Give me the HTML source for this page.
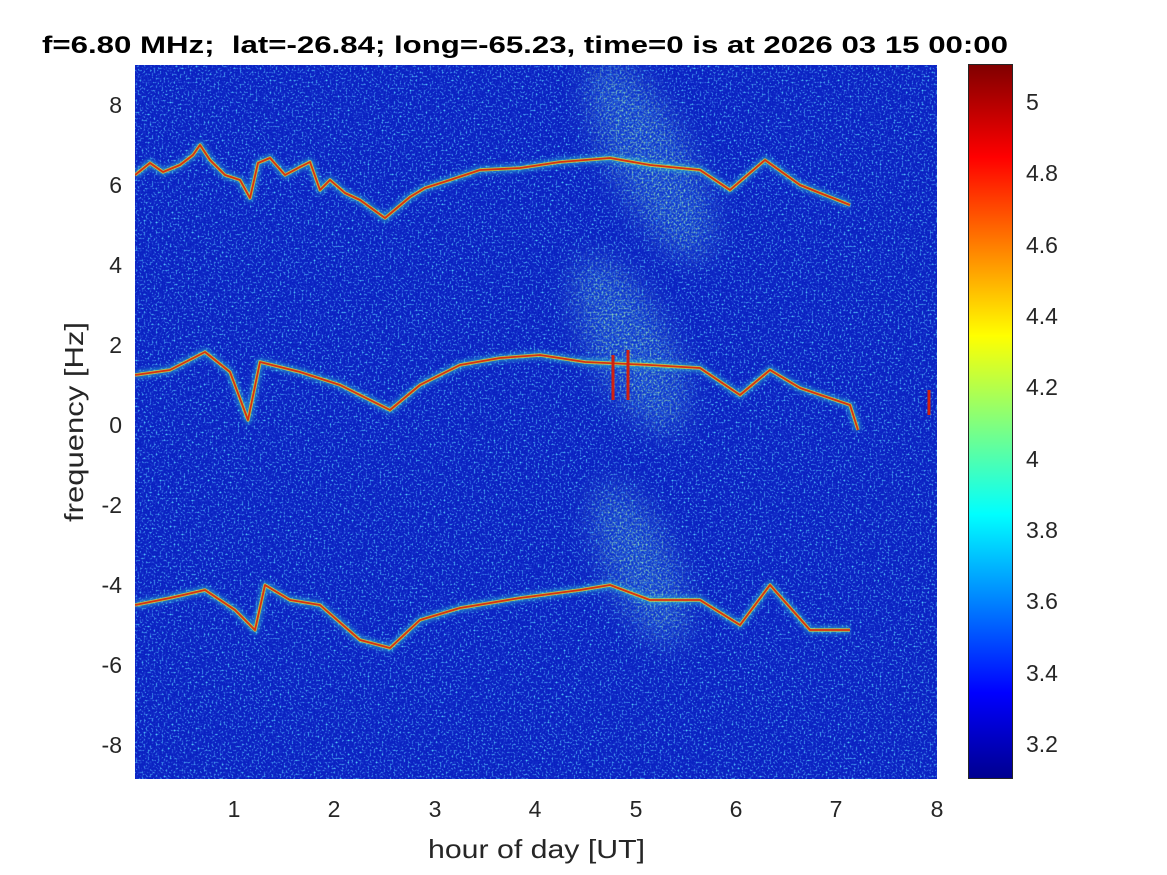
<!DOCTYPE html>
<html><head><meta charset="utf-8"><style>
body{margin:0;background:#fff;width:1167px;height:875px;overflow:hidden}
svg{display:block;font-family:"Liberation Sans",sans-serif}
</style></head><body>
<svg width="1167" height="875" viewBox="0 0 1167 875">
<defs>
<filter id="nz" x="0" y="0" width="100%" height="100%">
<feTurbulence type="fractalNoise" baseFrequency="0.5" numOctaves="1" seed="3" result="t"/>
<feColorMatrix in="t" type="matrix" values="0 0 0 0 0.1  2.2 0 0 0 -0.95  0 0 0 0 1  3 0 0 0 -1.45"/>
</filter>
<filter id="nz2" x="0" y="0" width="100%" height="100%">
<feTurbulence type="fractalNoise" baseFrequency="0.5" numOctaves="1" seed="9" result="t"/>
<feColorMatrix in="t" type="matrix" values="0 0 0 0 0.35  0 0 0 0 0.85  0 0 0 0 0.45  3 0 0 0 -1.35"/>
</filter>
<filter id="bl" x="-50%" y="-50%" width="200%" height="200%"><feGaussianBlur stdDeviation="14"/></filter>
<filter id="gl" x="-10%" y="-10%" width="120%" height="120%"><feGaussianBlur stdDeviation="2"/></filter>
<linearGradient id="jet" x1="0" y1="1" x2="0" y2="0">
<stop offset="0" stop-color="#00008f"/>
<stop offset="0.12" stop-color="#0000ff"/>
<stop offset="0.37" stop-color="#00ffff"/>
<stop offset="0.62" stop-color="#ffff00"/>
<stop offset="0.87" stop-color="#ff0000"/>
<stop offset="1" stop-color="#800000"/>
</linearGradient>
<mask id="streak"><g filter="url(#bl)" fill="#fff">
<ellipse cx="650" cy="160" rx="38" ry="110" transform="rotate(-28 650 160)"/>
<ellipse cx="630" cy="345" rx="38" ry="95" transform="rotate(-28 630 345)"/>
<ellipse cx="640" cy="565" rx="33" ry="85" transform="rotate(-25 640 565)"/>
</g></mask>
<clipPath id="cp"><rect x="135" y="65" width="802" height="714"/></clipPath>
</defs>
<g clip-path="url(#cp)">
<rect x="135" y="65" width="802" height="714" fill="#0a22c2"/>
<rect x="135" y="65" width="802" height="714" filter="url(#nz)" opacity="0.8"/>
<g mask="url(#streak)">
<rect x="135" y="65" width="802" height="714" fill="#1a5ae0" opacity="0.45"/>
<rect x="135" y="65" width="802" height="714" filter="url(#nz2)" opacity="0.75"/>
</g>
<g fill="none" stroke-linejoin="round">
<g stroke="#30c8d0" stroke-width="8" opacity="0.55" filter="url(#gl)">
<polyline points="135,175 150,163 163,172 180,165 193,155 200,145 210,160 225,175 240,180 250,198 258,163 270,158 285,175 300,167 310,162 320,190 330,180 345,193 360,200 385,218 410,197 425,188 450,180 480,170 520,168 560,162 610,158 650,165 700,170 730,190 765,160 800,185 850,205"/>
<polyline points="135,375 170,370 205,352 230,372 248,420 260,362 300,372 340,385 390,410 420,385 460,365 500,358 540,355 585,362 650,365 700,368 740,395 770,370 800,388 850,405 858,430"/>
<polyline points="135,605 170,598 205,590 235,610 255,630 265,585 290,600 320,605 360,640 390,648 420,620 460,608 520,598 580,590 610,585 650,600 700,600 740,625 770,585 810,630 850,630"/>
</g>
<g stroke="#f0e020" stroke-width="3.5" opacity="0.7">
<polyline points="135,175 150,163 163,172 180,165 193,155 200,145 210,160 225,175 240,180 250,198 258,163 270,158 285,175 300,167 310,162 320,190 330,180 345,193 360,200 385,218 410,197 425,188 450,180 480,170 520,168 560,162 610,158 650,165 700,170 730,190 765,160 800,185 850,205"/>
<polyline points="135,375 170,370 205,352 230,372 248,420 260,362 300,372 340,385 390,410 420,385 460,365 500,358 540,355 585,362 650,365 700,368 740,395 770,370 800,388 850,405 858,430"/>
<polyline points="135,605 170,598 205,590 235,610 255,630 265,585 290,600 320,605 360,640 390,648 420,620 460,608 520,598 580,590 610,585 650,600 700,600 740,625 770,585 810,630 850,630"/>
</g>
<g stroke="#d83010" stroke-width="1.8">
<polyline points="135,175 150,163 163,172 180,165 193,155 200,145 210,160 225,175 240,180 250,198 258,163 270,158 285,175 300,167 310,162 320,190 330,180 345,193 360,200 385,218 410,197 425,188 450,180 480,170 520,168 560,162 610,158 650,165 700,170 730,190 765,160 800,185 850,205"/>
<polyline points="135,375 170,370 205,352 230,372 248,420 260,362 300,372 340,385 390,410 420,385 460,365 500,358 540,355 585,362 650,365 700,368 740,395 770,370 800,388 850,405 858,430"/>
<polyline points="135,605 170,598 205,590 235,610 255,630 265,585 290,600 320,605 360,640 390,648 420,620 460,608 520,598 580,590 610,585 650,600 700,600 740,625 770,585 810,630 850,630"/>
</g>
<g stroke="#d02010" stroke-width="3">
<line x1="613" y1="355" x2="613" y2="400"/><line x1="628" y1="350" x2="628" y2="400"/>
<line x1="929" y1="390" x2="929" y2="415"/>
</g>
</g>
</g>
<g font-size="23" fill="#262626">
<g text-anchor="middle">
<text x="234" y="817">1</text><text x="334" y="817">2</text><text x="435" y="817">3</text><text x="535" y="817">4</text><text x="636" y="817">5</text><text x="736" y="817">6</text><text x="836" y="817">7</text><text x="937" y="817">8</text>
</g>
<text x="428" y="858" font-size="26" textLength="217" lengthAdjust="spacingAndGlyphs">hour of day [UT]</text>
<g text-anchor="end">
<text x="122" y="113">8</text><text x="122" y="193">6</text><text x="122" y="273">4</text><text x="122" y="353">2</text><text x="122" y="433">0</text><text x="122" y="513">-2</text><text x="122" y="593">-4</text><text x="122" y="673">-6</text><text x="122" y="753">-8</text>
</g>
<text transform="translate(83 522) rotate(-90)" font-size="26" textLength="200" lengthAdjust="spacingAndGlyphs">frequency [Hz]</text>
<text x="1026" y="110">5</text><text x="1026" y="181">4.8</text><text x="1026" y="253">4.6</text><text x="1026" y="324">4.4</text><text x="1026" y="395">4.2</text><text x="1026" y="467">4</text><text x="1026" y="538">3.8</text><text x="1026" y="609">3.6</text><text x="1026" y="681">3.4</text><text x="1026" y="752">3.2</text>
</g>
<text x="42" y="53" font-size="24" font-weight="bold" fill="#000" textLength="966" lengthAdjust="spacingAndGlyphs" xml:space="preserve">f=6.80 MHz;  lat=-26.84; long=-65.23, time=0 is at 2026 03 15 00:00</text>
<rect x="968.5" y="64.5" width="44" height="714" fill="url(#jet)" stroke="#262626" stroke-width="1"/>
</svg>
</body></html>
